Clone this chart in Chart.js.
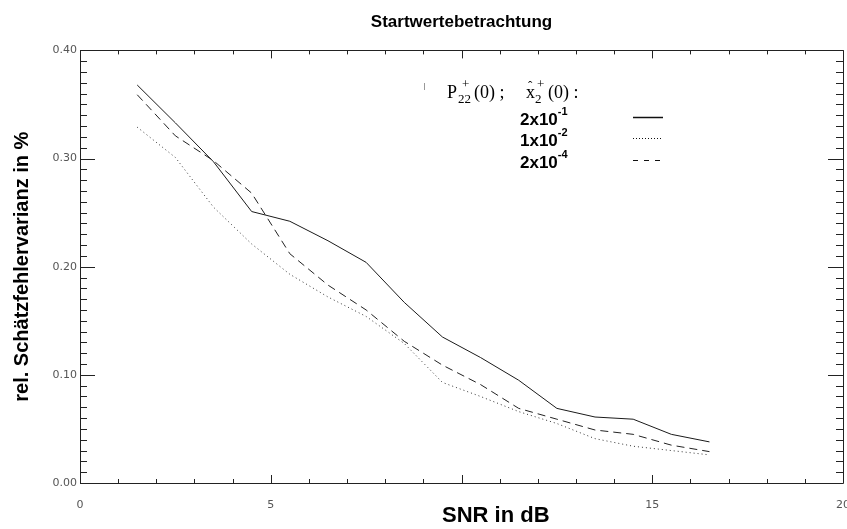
<!DOCTYPE html>
<html>
<head>
<meta charset="utf-8">
<script src="https://cdn.jsdelivr.net/npm/chart.js@4"></script>
<style>
    html, body { margin: 0; padding: 0; background: #fff; }
    #wrap { width: 847px; height: 529px; }
</style>
</head>
<body>
<div id="wrap"><canvas id="chartStartwerte"></canvas></div>
<script>
// SNR in dB
const snr = [1.5, 2.5, 3.5, 4.5, 5.5, 6.5, 7.5, 8.5, 9.5, 10.5, 11.5, 12.5, 13.5, 14.5, 15.5, 16.5];

// rel. Schaetzfehlervarianz for the three start values
const start2e1 = [0.368, 0.333, 0.297, 0.251, 0.242, 0.224, 0.204, 0.167, 0.135, 0.116, 0.095, 0.069, 0.061, 0.059, 0.045, 0.038];
const start1e2 = [0.329, 0.301, 0.255, 0.221, 0.193, 0.172, 0.154, 0.129, 0.093, 0.080, 0.066, 0.055, 0.041, 0.034, 0.030, 0.026];
const start2e4 = [0.359, 0.321, 0.298, 0.268, 0.212, 0.183, 0.160, 0.131, 0.109, 0.091, 0.069, 0.059, 0.049, 0.045, 0.035, 0.029];

const legendMantissa = ['2x10', '1x10', '2x10'];
const legendExponent = ['-1', '-2', '-4'];

const xTickValues = [0, 5, 10, 15, 20];
const xTickLabels = ['0', '5', '', '15', '20'];
const yTickValues = [0, 0.1, 0.2, 0.3, 0.4];
const yTickLabels = ['0.00', '0.10', '0.20', '0.30', '0.40'];

(function() {
    Chart.defaults.color = '#000';

    function toPoints(values) {
        return values.map(function(v, i) { return {x: snr[i], y: v}; });
    }

    const lineSolid = {
        label: legendMantissa[0] + '^' + legendExponent[0],
        data: toPoints(start2e1),
        borderColor: '#1a1a1a',
        borderWidth: 1,
        pointRadius: 0,
        borderDash: []
    };

    const lineDotted = {
        label: legendMantissa[1] + '^' + legendExponent[1],
        data: toPoints(start1e2),
        borderColor: '#333',
        borderWidth: 1,
        pointRadius: 0,
        borderDash: [1, 3]
    };

    const lineDashed = {
        label: legendMantissa[2] + '^' + legendExponent[2],
        data: toPoints(start2e4),
        borderColor: '#222',
        borderWidth: 1,
        pointRadius: 0,
        borderDash: [8, 5]
    };

    // IDL style box with inward ticks on all four sides
    const frameTicks = {
        id: 'frameTicks',
        afterDraw: function(chart) {
            const ctx = chart.ctx;
            const xs = chart.scales.x;
            const ys = chart.scales.y;
            const a = chart.chartArea;
            ctx.save();
            ctx.strokeStyle = '#222';
            ctx.lineWidth = 1;
            ctx.beginPath();
            ctx.rect(Math.round(a.left) + 0.5, Math.round(a.top) + 0.5, Math.round(a.right - a.left), Math.round(a.bottom - a.top));
            for (let v = 0; v <= 20; v++) {
                const px = Math.round(xs.getPixelForValue(v)) + 0.5;
                const len = v % 5 === 0 ? 8 : 4;
                ctx.moveTo(px, a.bottom);
                ctx.lineTo(px, a.bottom - len);
                ctx.moveTo(px, a.top);
                ctx.lineTo(px, a.top + len);
            }
            for (let k = 0; k <= 40; k++) {
                const py = Math.round(ys.getPixelForValue(k / 100)) + 0.5;
                const len = k % 10 === 0 ? 15 : 7;
                ctx.moveTo(a.left, py);
                ctx.lineTo(a.left + len, py);
                ctx.moveTo(a.right, py);
                ctx.lineTo(a.right - len, py);
            }
            ctx.stroke();

            // x axis title sits right of centre in the original
            ctx.fillStyle = '#000';
            ctx.font = 'bold 22px "Liberation Sans", Arial, sans-serif';
            ctx.textAlign = 'left';
            ctx.textBaseline = 'middle';
            ctx.fillText('SNR in dB', 442, 516);
            ctx.restore();
        }
    };

    // legend block: P22+(0) ; x^2+(0) : and the three start values
    const startLegend = {
        id: 'startLegend',
        afterDraw: function(chart) {
            const ctx = chart.ctx;
            const serif = '"Liberation Serif", "DejaVu Serif", serif';
            const sans = '"Liberation Sans", Arial, sans-serif';
            ctx.save();
            ctx.fillStyle = '#000';
            ctx.textBaseline = 'alphabetic';
            ctx.textAlign = 'left';

            ctx.strokeStyle = '#999';
            ctx.beginPath();
            ctx.moveTo(424.5, 83);
            ctx.lineTo(424.5, 90);
            ctx.stroke();

            const base = 98;
            ctx.font = '18px ' + serif;
            ctx.fillText('P', 447, base);
            ctx.font = '13px ' + serif;
            ctx.fillText('22', 458, base + 5);
            ctx.fillText('+', 462, base - 10);
            ctx.font = '18px ' + serif;
            ctx.fillText('(0) ;', 474, base);
            ctx.fillText('x', 526, base);
            ctx.font = '13px ' + serif;
            ctx.fillText('\u02C6', 528, base - 8);
            ctx.fillText('2', 535, base + 5);
            ctx.fillText('+', 537, base - 10);
            ctx.font = '18px ' + serif;
            ctx.fillText('(0) :', 548, base);

            const rows = [117, 138, 160];
            const dashes = [[], [1, 2], [5, 6]];
            for (let i = 0; i < rows.length; i++) {
                ctx.font = 'bold 17px ' + sans;
                ctx.fillText(legendMantissa[i], 520, rows[i] + 8);
                const w = ctx.measureText(legendMantissa[i]).width;
                ctx.font = 'bold 11px ' + sans;
                ctx.fillText(legendExponent[i], 520 + w, rows[i] - 2);

                ctx.strokeStyle = '#111';
                ctx.lineWidth = i === 0 ? 1.5 : 1;
                ctx.setLineDash(dashes[i]);
                ctx.beginPath();
                ctx.moveTo(633, rows[i] + 0.5);
                ctx.lineTo(663, rows[i] + 0.5);
                ctx.stroke();
            }
            ctx.restore();
        }
    };

    const tickFont = {family: '"DejaVu Sans", sans-serif', size: 11};

    window.startChart = new Chart(document.getElementById('chartStartwerte'), {
        type: 'line',
        data: {
            datasets: [lineSolid, lineDotted, lineDashed]
        },
        options: {
            responsive: true,
            maintainAspectRatio: false,
            animation: false,
            layout: {
                padding: {left: 0, right: 4, top: 0, bottom: 0}
            },
            scales: {
                x: {
                    type: 'linear',
                    min: 0,
                    max: 20,
                    grid: {display: false, drawTicks: false},
                    border: {display: false},
                    afterBuildTicks: function(scale) {
                        scale.ticks = xTickValues.map(function(v) { return {value: v}; });
                    },
                    afterFit: function(scale) {
                        scale.height = 46;
                        scale.paddingLeft = 0;
                        scale.paddingRight = 0;
                    },
                    ticks: {
                        font: tickFont,
                        color: '#555',
                        padding: 16,
                        maxRotation: 0,
                        autoSkip: false,
                        callback: function(value) {
                            return xTickLabels[xTickValues.indexOf(value)];
                        }
                    },
                    title: {display: false}
                },
                y: {
                    min: 0,
                    max: 0.4,
                    grid: {display: false, drawTicks: false},
                    border: {display: false},
                    afterBuildTicks: function(scale) {
                        scale.ticks = yTickValues.map(function(v) { return {value: v}; });
                    },
                    afterFit: function(scale) {
                        scale.width = 80;
                        scale.paddingTop = 0;
                        scale.paddingBottom = 0;
                    },
                    ticks: {
                        font: tickFont,
                        color: '#555',
                        padding: 3,
                        autoSkip: false,
                        callback: function(value) {
                            return yTickLabels[yTickValues.indexOf(value)];
                        }
                    },
                    title: {
                        display: true,
                        text: 'rel. Schätzfehlervarianz in %',
                        font: {family: '"Liberation Sans", Arial, sans-serif', size: 20, weight: 'bold'},
                        padding: {top: 10, bottom: 0}
                    }
                }
            },
            plugins: {
                legend: {display: false},
                tooltip: {enabled: false},
                title: {
                    display: true,
                    fullSize: false,
                    text: 'Startwertebetrachtung',
                    font: {family: '"Liberation Sans", Arial, sans-serif', size: 17, weight: 'bold'},
                    padding: {top: 12, bottom: 18}
                }
            }
        },
        plugins: [frameTicks, startLegend]
    });
})();
</script>
</body>
</html>
